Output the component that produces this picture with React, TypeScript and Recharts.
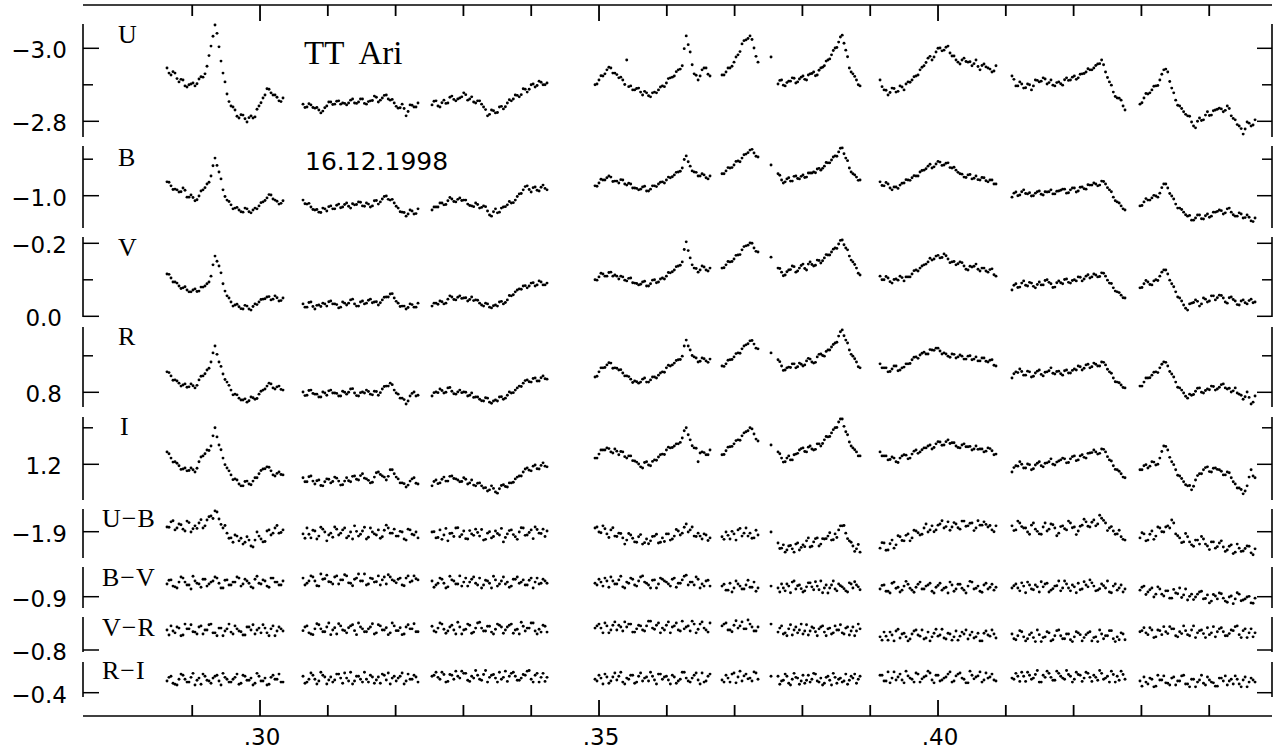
import React from "react";
import { ScatterChart, Scatter, XAxis, YAxis, ReferenceLine } from "recharts";

// time (fraction of day) of each observing block; the 6th block is a single stray point
const SEG_START = [0.28628, 0.30634, 0.32537, 0.34941, 0.36814, 0.37537, 0.3764, 0.39145, 0.41091, 0.42979];
const SEG_END = [0.30339, 0.3233, 0.34233, 0.36637, 0.37345, 0.37537, 0.3885, 0.40855, 0.42758, 0.44676];

// *_MAG / *_COL: readings on the block grid; *_MID: readings falling between them
const U_MAG = [
  [-2.946, -2.927, -2.932, -2.908, -2.913, -2.894, -2.902, -2.897, -2.916, -2.921, -2.951, -3.006, -3.064, -3.004, -2.932, -2.875, -2.842, -2.831, -2.809, -2.817, -2.798, -2.815, -2.812, -2.842, -2.864, -2.889, -2.878, -2.872, -2.856, -2.864],
  [-2.847, -2.839, -2.845, -2.836, -2.831, -2.828, -2.842, -2.853, -2.847, -2.856, -2.85, -2.845, -2.858, -2.85, -2.853, -2.861, -2.847, -2.856, -2.869, -2.853, -2.864, -2.872, -2.858, -2.85, -2.836, -2.847, -2.815, -2.845, -2.839, -2.85],
  [-2.845, -2.856, -2.839, -2.858, -2.85, -2.869, -2.856, -2.864, -2.878, -2.858, -2.867, -2.85, -2.856, -2.839, -2.815, -2.831, -2.823, -2.839, -2.834, -2.85, -2.856, -2.872, -2.867, -2.889, -2.88, -2.9, -2.894, -2.91, -2.9, -2.905],
  [-2.9, -2.913, -2.924, -2.941, -2.946, -2.932, -2.919, -2.913, -2.968, -2.897, -2.886, -2.891, -2.872, -2.878, -2.867, -2.88, -2.886, -2.897, -2.905, -2.919, -2.924, -2.941, -2.952, -3.034, -2.99, -2.93, -2.913, -2.941, -2.946, -2.924],
  [-2.927, -2.935, -2.946, -2.962, -2.982, -3.012, -3.023, -3.034, -3.001, -2.962],
  [-2.976],
  [-2.902, -2.913, -2.897, -2.91, -2.919, -2.905, -2.916, -2.924, -2.913, -2.93, -2.935, -2.927, -2.946, -2.952, -2.968, -2.982, -3.001, -3.017, -3.036, -2.995, -2.946, -2.93, -2.913, -2.897],
  [-2.913, -2.886, -2.872, -2.891, -2.88, -2.897, -2.886, -2.908, -2.913, -2.924, -2.941, -2.952, -2.973, -2.968, -2.99, -3.001, -2.995, -3.006, -2.979, -2.968, -2.957, -2.973, -2.962, -2.952, -2.968, -2.941, -2.957, -2.946, -2.935, -2.952],
  [-2.924, -2.897, -2.908, -2.891, -2.902, -2.886, -2.913, -2.908, -2.919, -2.902, -2.913, -2.897, -2.908, -2.899, -2.919, -2.913, -2.924, -2.919, -2.93, -2.935, -2.941, -2.946, -2.957, -2.968, -2.935, -2.908, -2.88, -2.864, -2.858, -2.831],
  [-2.847, -2.864, -2.875, -2.886, -2.897, -2.913, -2.941, -2.935, -2.891, -2.858, -2.842, -2.826, -2.815, -2.798, -2.782, -2.809, -2.804, -2.826, -2.817, -2.831, -2.836, -2.826, -2.842, -2.815, -2.804, -2.787, -2.765, -2.798, -2.787, -2.804],
];
const U_MID = [
  [-2.932, -2.936, -2.917, -2.915, -2.897, -2.9, -2.905, -2.903, -2.922, -2.93, -2.98, -3.033, -3.041, -2.965, -2.908, -2.854, -2.839, -2.814, -2.818, -2.807, -2.81, -2.809, -2.833, -2.851, -2.872, -2.888, -2.872, -2.866, -2.854],
  [-2.838, -2.848, -2.838, -2.838, -2.823, -2.837, -2.853, -2.846, -2.855, -2.847, -2.849, -2.85, -2.861, -2.849, -2.861, -2.849, -2.854, -2.857, -2.866, -2.858, -2.871, -2.861, -2.86, -2.841, -2.837, -2.835, -2.827, -2.844, -2.839],
  [-2.855, -2.842, -2.851, -2.849, -2.866, -2.86, -2.861, -2.867, -2.873, -2.861, -2.853, -2.856, -2.847, -2.832, -2.819, -2.829, -2.824, -2.841, -2.84, -2.859, -2.861, -2.871, -2.873, -2.888, -2.888, -2.902, -2.898, -2.907, -2.9],
  [-2.902, -2.925, -2.93, -2.948, -2.932, -2.928, -2.921, -2.901, -2.895, -2.886, -2.89, -2.88, -2.882, -2.87, -2.878, -2.878, -2.894, -2.895, -2.917, -2.921, -2.936, -2.943, -2.999, -3.01, -2.955, -2.926, -2.924, -2.946, -2.929],
  [-2.927, -2.946, -2.951, -2.976, -2.991, -3.021, -3.027, -3.024, -2.978],
  [],
  [-2.912, -2.899, -2.906, -2.91, -2.918, -2.908, -2.921, -2.915, -2.927, -2.931, -2.925, -2.94, -2.948, -2.965, -2.971, -2.994, -3.002, -3.031, -3.014, -2.977, -2.935, -2.923, -2.9],
  [-2.895, -2.885, -2.879, -2.89, -2.882, -2.894, -2.902, -2.907, -2.922, -2.927, -2.948, -2.961, -2.978, -2.976, -3.0, -2.993, -3.003, -2.987, -2.979, -2.962, -2.968, -2.964, -2.963, -2.958, -2.95, -2.953, -2.949, -2.943, -2.938],
  [-2.915, -2.897, -2.902, -2.892, -2.9, -2.897, -2.912, -2.91, -2.916, -2.906, -2.899, -2.906, -2.903, -2.914, -2.912, -2.921, -2.915, -2.929, -2.931, -2.944, -2.941, -2.953, -2.958, -2.955, -2.92, -2.899, -2.868, -2.863, -2.842],
  [-2.851, -2.876, -2.878, -2.896, -2.898, -2.929, -2.943, -2.909, -2.878, -2.844, -2.835, -2.819, -2.814, -2.787, -2.8, -2.802, -2.817, -2.816, -2.829, -2.833, -2.834, -2.83, -2.835, -2.808, -2.791, -2.78, -2.779, -2.795, -2.79],
];

const B_MAG = [
  [-1.038, -1.027, -1.018, -1.01, -1.021, -0.996, -1.002, -0.986, -0.999, -1.016, -1.032, -1.054, -1.103, -1.065, -1.016, -0.988, -0.975, -0.966, -0.961, -0.955, -0.964, -0.953, -0.966, -0.972, -0.983, -0.994, -1.002, -0.988, -0.977, -0.986],
  [-0.988, -0.977, -0.969, -0.961, -0.955, -0.966, -0.958, -0.972, -0.964, -0.977, -0.969, -0.98, -0.966, -0.975, -0.983, -0.972, -0.98, -0.969, -0.986, -0.977, -0.991, -0.999, -0.988, -0.98, -0.966, -0.955, -0.944, -0.961, -0.95, -0.964],
  [-0.961, -0.969, -0.98, -0.975, -0.986, -0.991, -0.983, -0.994, -0.988, -0.977, -0.972, -0.98, -0.966, -0.972, -0.958, -0.944, -0.964, -0.955, -0.969, -0.975, -0.98, -0.988, -1.005, -1.016, -1.027, -1.01, -1.024, -1.013, -1.029, -1.016],
  [-1.027, -1.035, -1.043, -1.049, -1.051, -1.04, -1.035, -1.043, -1.029, -1.032, -1.021, -1.016, -1.024, -1.013, -1.018, -1.027, -1.032, -1.038, -1.043, -1.049, -1.057, -1.065, -1.076, -1.109, -1.081, -1.065, -1.054, -1.06, -1.049, -1.054],
  [-1.06, -1.068, -1.076, -1.084, -1.095, -1.103, -1.114, -1.125, -1.117, -1.106],
  [-1.084],
  [-1.06, -1.043, -1.038, -1.049, -1.04, -1.054, -1.046, -1.057, -1.051, -1.062, -1.065, -1.073, -1.07, -1.081, -1.09, -1.098, -1.109, -1.12, -1.131, -1.103, -1.076, -1.06, -1.051, -1.043],
  [-1.038, -1.027, -1.032, -1.016, -1.024, -1.029, -1.035, -1.043, -1.049, -1.054, -1.065, -1.07, -1.081, -1.076, -1.087, -1.092, -1.084, -1.09, -1.076, -1.07, -1.06, -1.051, -1.057, -1.046, -1.054, -1.043, -1.049, -1.038, -1.043, -1.032],
  [-0.996, -1.01, -1.002, -1.016, -1.005, -0.999, -1.007, -1.013, -1.002, -1.01, -1.016, -1.005, -1.013, -1.018, -1.007, -1.016, -1.021, -1.013, -1.024, -1.018, -1.029, -1.035, -1.027, -1.04, -1.032, -1.016, -0.996, -0.983, -0.972, -0.961],
  [-0.972, -0.983, -0.988, -0.994, -0.999, -1.007, -1.032, -1.021, -0.999, -0.977, -0.966, -0.955, -0.944, -0.933, -0.939, -0.947, -0.936, -0.95, -0.944, -0.955, -0.961, -0.95, -0.964, -0.955, -0.944, -0.953, -0.939, -0.947, -0.931, -0.939],
];
const B_MID = [
  [-1.037, -1.017, -1.016, -1.011, -1.015, -0.996, -0.995, -0.989, -1.013, -1.022, -1.037, -1.082, -1.083, -1.046, -0.998, -0.984, -0.964, -0.968, -0.956, -0.966, -0.956, -0.961, -0.964, -0.981, -0.987, -1.003, -0.991, -0.985, -0.979],
  [-0.978, -0.979, -0.962, -0.962, -0.954, -0.964, -0.97, -0.964, -0.974, -0.967, -0.976, -0.971, -0.978, -0.976, -0.982, -0.971, -0.977, -0.972, -0.987, -0.983, -0.998, -0.99, -0.99, -0.971, -0.956, -0.954, -0.95, -0.958, -0.951],
  [-0.969, -0.969, -0.98, -0.976, -0.995, -0.984, -0.99, -0.987, -0.988, -0.973, -0.97, -0.976, -0.968, -0.97, -0.947, -0.956, -0.953, -0.966, -0.97, -0.984, -0.981, -0.998, -1.006, -1.025, -1.017, -1.022, -1.015, -1.023, -1.02],
  [-1.026, -1.045, -1.043, -1.054, -1.039, -1.04, -1.044, -1.032, -1.034, -1.021, -1.02, -1.018, -1.026, -1.013, -1.027, -1.025, -1.037, -1.035, -1.051, -1.052, -1.064, -1.067, -1.099, -1.093, -1.068, -1.064, -1.054, -1.057, -1.046],
  [-1.06, -1.077, -1.077, -1.094, -1.093, -1.112, -1.118, -1.127, -1.108],
  [],
  [-1.056, -1.035, -1.046, -1.04, -1.053, -1.047, -1.053, -1.05, -1.062, -1.062, -1.063, -1.075, -1.075, -1.091, -1.09, -1.106, -1.108, -1.13, -1.115, -1.096, -1.065, -1.057, -1.042],
  [-1.028, -1.036, -1.021, -1.024, -1.02, -1.034, -1.044, -1.042, -1.055, -1.054, -1.069, -1.074, -1.086, -1.079, -1.094, -1.083, -1.089, -1.077, -1.078, -1.064, -1.059, -1.05, -1.058, -1.048, -1.044, -1.05, -1.041, -1.043, -1.032],
  [-1.007, -1.0, -1.011, -1.006, -1.008, -1.0, -1.011, -1.004, -1.011, -1.011, -1.005, -1.012, -1.015, -1.018, -1.008, -1.021, -1.01, -1.023, -1.019, -1.03, -1.029, -1.032, -1.029, -1.039, -1.022, -1.011, -0.986, -0.98, -0.964],
  [-0.973, -0.992, -0.988, -1.001, -0.996, -1.022, -1.032, -1.006, -0.991, -0.966, -0.962, -0.948, -0.946, -0.933, -0.947, -0.937, -0.945, -0.941, -0.955, -0.957, -0.959, -0.953, -0.966, -0.948, -0.944, -0.95, -0.94, -0.941, -0.929],
];

const V_MAG = [
  [-0.116, -0.105, -0.094, -0.083, -0.078, -0.072, -0.067, -0.075, -0.069, -0.08, -0.089, -0.11, -0.165, -0.138, -0.089, -0.056, -0.039, -0.031, -0.026, -0.02, -0.028, -0.017, -0.034, -0.039, -0.047, -0.053, -0.045, -0.056, -0.042, -0.05],
  [-0.034, -0.025, -0.039, -0.02, -0.031, -0.036, -0.028, -0.042, -0.034, -0.023, -0.039, -0.031, -0.045, -0.034, -0.028, -0.042, -0.036, -0.047, -0.039, -0.031, -0.045, -0.053, -0.061, -0.05, -0.036, -0.028, -0.02, -0.034, -0.025, -0.036],
  [-0.028, -0.036, -0.042, -0.034, -0.047, -0.053, -0.045, -0.056, -0.05, -0.042, -0.053, -0.045, -0.036, -0.028, -0.034, -0.023, -0.031, -0.039, -0.034, -0.045, -0.056, -0.067, -0.075, -0.083, -0.078, -0.091, -0.083, -0.097, -0.086, -0.091],
  [-0.1, -0.108, -0.116, -0.11, -0.121, -0.113, -0.102, -0.108, -0.097, -0.105, -0.091, -0.086, -0.094, -0.083, -0.089, -0.1, -0.094, -0.105, -0.11, -0.119, -0.127, -0.138, -0.149, -0.204, -0.16, -0.132, -0.121, -0.138, -0.127, -0.132],
  [-0.132, -0.141, -0.149, -0.157, -0.168, -0.182, -0.193, -0.201, -0.187, -0.176],
  [-0.162],
  [-0.132, -0.121, -0.113, -0.127, -0.138, -0.121, -0.132, -0.143, -0.127, -0.149, -0.138, -0.154, -0.146, -0.16, -0.168, -0.176, -0.187, -0.198, -0.209, -0.187, -0.165, -0.149, -0.132, -0.113],
  [-0.11, -0.1, -0.105, -0.091, -0.102, -0.11, -0.097, -0.108, -0.116, -0.127, -0.132, -0.141, -0.149, -0.154, -0.165, -0.16, -0.171, -0.157, -0.149, -0.141, -0.149, -0.138, -0.127, -0.135, -0.143, -0.124, -0.132, -0.121, -0.13, -0.11],
  [-0.072, -0.089, -0.08, -0.097, -0.083, -0.091, -0.078, -0.094, -0.086, -0.1, -0.089, -0.08, -0.097, -0.089, -0.102, -0.091, -0.1, -0.108, -0.097, -0.11, -0.105, -0.116, -0.108, -0.119, -0.11, -0.091, -0.078, -0.067, -0.058, -0.05],
  [-0.078, -0.089, -0.094, -0.086, -0.1, -0.11, -0.127, -0.116, -0.089, -0.067, -0.05, -0.031, -0.017, -0.036, -0.045, -0.028, -0.05, -0.039, -0.056, -0.045, -0.058, -0.05, -0.036, -0.053, -0.042, -0.031, -0.045, -0.034, -0.047, -0.039],
];
const V_MID = [
  [-0.115, -0.094, -0.091, -0.076, -0.081, -0.067, -0.072, -0.068, -0.08, -0.083, -0.094, -0.141, -0.151, -0.119, -0.069, -0.05, -0.028, -0.033, -0.021, -0.03, -0.02, -0.027, -0.032, -0.046, -0.048, -0.054, -0.047, -0.051, -0.043],
  [-0.025, -0.038, -0.027, -0.03, -0.027, -0.034, -0.04, -0.034, -0.032, -0.025, -0.036, -0.036, -0.047, -0.028, -0.039, -0.034, -0.044, -0.037, -0.04, -0.037, -0.052, -0.053, -0.062, -0.041, -0.027, -0.028, -0.024, -0.032, -0.025],
  [-0.036, -0.033, -0.04, -0.036, -0.056, -0.046, -0.052, -0.049, -0.051, -0.046, -0.043, -0.044, -0.031, -0.036, -0.025, -0.029, -0.028, -0.041, -0.038, -0.057, -0.059, -0.072, -0.074, -0.084, -0.083, -0.092, -0.086, -0.094, -0.086],
  [-0.099, -0.118, -0.11, -0.12, -0.11, -0.11, -0.11, -0.099, -0.104, -0.092, -0.09, -0.088, -0.096, -0.083, -0.099, -0.092, -0.102, -0.102, -0.12, -0.122, -0.136, -0.14, -0.183, -0.18, -0.141, -0.131, -0.127, -0.135, -0.124],
  [-0.133, -0.15, -0.15, -0.167, -0.169, -0.191, -0.195, -0.2, -0.178],
  [],
  [-0.131, -0.111, -0.122, -0.128, -0.136, -0.124, -0.139, -0.131, -0.143, -0.142, -0.14, -0.153, -0.152, -0.169, -0.168, -0.184, -0.186, -0.208, -0.196, -0.182, -0.154, -0.142, -0.118],
  [-0.1, -0.109, -0.095, -0.101, -0.099, -0.106, -0.108, -0.108, -0.125, -0.124, -0.138, -0.143, -0.159, -0.157, -0.167, -0.161, -0.166, -0.147, -0.15, -0.144, -0.147, -0.129, -0.137, -0.137, -0.129, -0.132, -0.124, -0.128, -0.114],
  [-0.085, -0.079, -0.091, -0.085, -0.093, -0.082, -0.087, -0.086, -0.098, -0.093, -0.079, -0.092, -0.092, -0.101, -0.093, -0.098, -0.097, -0.107, -0.102, -0.114, -0.108, -0.113, -0.109, -0.118, -0.099, -0.09, -0.069, -0.065, -0.051],
  [-0.079, -0.098, -0.087, -0.097, -0.098, -0.121, -0.127, -0.099, -0.081, -0.053, -0.042, -0.022, -0.034, -0.038, -0.041, -0.034, -0.047, -0.042, -0.056, -0.051, -0.057, -0.039, -0.051, -0.046, -0.032, -0.042, -0.037, -0.043, -0.037],
];

const R_MAG = [
  [0.744, 0.755, 0.766, 0.775, 0.78, 0.786, 0.777, 0.788, 0.766, 0.755, 0.739, 0.717, 0.673, 0.717, 0.75, 0.772, 0.794, 0.805, 0.816, 0.821, 0.827, 0.813, 0.819, 0.805, 0.794, 0.783, 0.777, 0.791, 0.783, 0.794],
  [0.799, 0.808, 0.794, 0.805, 0.813, 0.799, 0.808, 0.794, 0.802, 0.81, 0.797, 0.805, 0.791, 0.802, 0.81, 0.799, 0.794, 0.805, 0.797, 0.808, 0.791, 0.783, 0.775, 0.794, 0.805, 0.816, 0.832, 0.81, 0.799, 0.808],
  [0.81, 0.799, 0.791, 0.802, 0.788, 0.797, 0.805, 0.794, 0.799, 0.81, 0.802, 0.813, 0.819, 0.824, 0.816, 0.83, 0.821, 0.813, 0.819, 0.808, 0.802, 0.794, 0.783, 0.775, 0.766, 0.772, 0.761, 0.769, 0.755, 0.764],
  [0.758, 0.744, 0.733, 0.725, 0.72, 0.733, 0.739, 0.747, 0.755, 0.764, 0.769, 0.775, 0.764, 0.772, 0.766, 0.758, 0.753, 0.744, 0.733, 0.728, 0.72, 0.711, 0.701, 0.657, 0.684, 0.703, 0.717, 0.706, 0.714, 0.709],
  [0.728, 0.722, 0.711, 0.703, 0.692, 0.681, 0.67, 0.659, 0.668, 0.681],
  [0.692],
  [0.711, 0.728, 0.739, 0.731, 0.722, 0.733, 0.72, 0.728, 0.714, 0.709, 0.72, 0.703, 0.695, 0.701, 0.684, 0.676, 0.665, 0.646, 0.629, 0.657, 0.684, 0.701, 0.717, 0.733],
  [0.722, 0.733, 0.744, 0.736, 0.728, 0.739, 0.731, 0.722, 0.711, 0.703, 0.698, 0.69, 0.695, 0.684, 0.679, 0.687, 0.692, 0.701, 0.695, 0.706, 0.698, 0.709, 0.701, 0.711, 0.703, 0.714, 0.706, 0.717, 0.711, 0.728],
  [0.761, 0.744, 0.736, 0.753, 0.742, 0.758, 0.747, 0.739, 0.755, 0.744, 0.733, 0.75, 0.742, 0.753, 0.739, 0.747, 0.736, 0.728, 0.739, 0.725, 0.733, 0.72, 0.728, 0.717, 0.725, 0.744, 0.761, 0.772, 0.78, 0.788],
  [0.783, 0.772, 0.761, 0.753, 0.744, 0.733, 0.717, 0.728, 0.75, 0.772, 0.788, 0.802, 0.816, 0.808, 0.797, 0.788, 0.802, 0.791, 0.783, 0.794, 0.786, 0.777, 0.791, 0.799, 0.788, 0.805, 0.819, 0.799, 0.832, 0.81],
];
const R_MID = [
  [0.746, 0.767, 0.769, 0.783, 0.777, 0.785, 0.782, 0.781, 0.756, 0.749, 0.734, 0.692, 0.696, 0.729, 0.765, 0.781, 0.807, 0.807, 0.821, 0.818, 0.823, 0.815, 0.817, 0.797, 0.791, 0.775, 0.788, 0.785, 0.792],
  [0.809, 0.795, 0.803, 0.805, 0.813, 0.802, 0.796, 0.802, 0.803, 0.81, 0.8, 0.8, 0.79, 0.809, 0.801, 0.802, 0.798, 0.807, 0.798, 0.801, 0.784, 0.783, 0.779, 0.802, 0.816, 0.82, 0.824, 0.803, 0.81],
  [0.801, 0.801, 0.795, 0.8, 0.787, 0.804, 0.799, 0.801, 0.8, 0.808, 0.814, 0.813, 0.823, 0.815, 0.827, 0.824, 0.824, 0.812, 0.816, 0.799, 0.801, 0.788, 0.784, 0.768, 0.771, 0.762, 0.769, 0.76, 0.763],
  [0.756, 0.733, 0.732, 0.719, 0.734, 0.734, 0.738, 0.755, 0.757, 0.773, 0.771, 0.772, 0.761, 0.772, 0.758, 0.761, 0.747, 0.745, 0.726, 0.725, 0.713, 0.71, 0.673, 0.673, 0.699, 0.706, 0.715, 0.708, 0.718],
  [0.729, 0.712, 0.71, 0.694, 0.693, 0.673, 0.667, 0.658, 0.679],
  [],
  [0.716, 0.74, 0.733, 0.732, 0.722, 0.73, 0.723, 0.725, 0.707, 0.717, 0.718, 0.696, 0.699, 0.688, 0.684, 0.669, 0.663, 0.634, 0.645, 0.665, 0.696, 0.708, 0.73],
  [0.733, 0.733, 0.743, 0.728, 0.741, 0.733, 0.722, 0.721, 0.704, 0.707, 0.693, 0.695, 0.683, 0.685, 0.679, 0.695, 0.695, 0.704, 0.696, 0.703, 0.701, 0.709, 0.7, 0.709, 0.714, 0.706, 0.715, 0.712, 0.726],
  [0.749, 0.746, 0.743, 0.753, 0.744, 0.756, 0.742, 0.751, 0.745, 0.741, 0.748, 0.743, 0.749, 0.741, 0.747, 0.74, 0.739, 0.73, 0.734, 0.723, 0.73, 0.723, 0.728, 0.718, 0.737, 0.748, 0.771, 0.774, 0.787],
  [0.783, 0.761, 0.76, 0.745, 0.746, 0.723, 0.718, 0.743, 0.758, 0.786, 0.794, 0.811, 0.805, 0.806, 0.789, 0.8, 0.795, 0.793, 0.784, 0.791, 0.779, 0.788, 0.789, 0.796, 0.802, 0.808, 0.812, 0.814, 0.827],
];

const I_MAG = [
  [1.166, 1.183, 1.193, 1.204, 1.213, 1.218, 1.21, 1.221, 1.193, 1.177, 1.161, 1.15, 1.1, 1.147, 1.183, 1.21, 1.229, 1.24, 1.254, 1.259, 1.246, 1.256, 1.237, 1.226, 1.213, 1.207, 1.218, 1.232, 1.221, 1.229],
  [1.237, 1.248, 1.232, 1.254, 1.243, 1.259, 1.24, 1.251, 1.235, 1.246, 1.256, 1.237, 1.248, 1.232, 1.243, 1.226, 1.24, 1.251, 1.235, 1.221, 1.232, 1.243, 1.215, 1.226, 1.24, 1.251, 1.262, 1.246, 1.237, 1.254],
  [1.259, 1.243, 1.251, 1.235, 1.246, 1.232, 1.24, 1.248, 1.237, 1.254, 1.243, 1.259, 1.251, 1.265, 1.273, 1.259, 1.276, 1.267, 1.256, 1.262, 1.251, 1.24, 1.232, 1.221, 1.21, 1.218, 1.202, 1.213, 1.196, 1.207],
  [1.183, 1.172, 1.161, 1.155, 1.166, 1.158, 1.174, 1.166, 1.183, 1.177, 1.191, 1.199, 1.21, 1.193, 1.204, 1.188, 1.18, 1.172, 1.161, 1.155, 1.15, 1.144, 1.128, 1.1, 1.133, 1.155, 1.193, 1.166, 1.174, 1.161],
  [1.174, 1.163, 1.152, 1.144, 1.133, 1.122, 1.111, 1.1, 1.117, 1.136],
  [1.147],
  [1.166, 1.183, 1.193, 1.177, 1.188, 1.172, 1.161, 1.155, 1.166, 1.15, 1.161, 1.144, 1.15, 1.133, 1.125, 1.114, 1.1, 1.084, 1.076, 1.111, 1.139, 1.155, 1.166, 1.177],
  [1.166, 1.177, 1.188, 1.18, 1.193, 1.183, 1.174, 1.185, 1.172, 1.161, 1.166, 1.155, 1.15, 1.158, 1.144, 1.139, 1.147, 1.133, 1.141, 1.15, 1.155, 1.144, 1.152, 1.161, 1.15, 1.158, 1.166, 1.155, 1.163, 1.172],
  [1.221, 1.204, 1.193, 1.21, 1.199, 1.215, 1.202, 1.193, 1.207, 1.196, 1.185, 1.202, 1.191, 1.183, 1.196, 1.185, 1.177, 1.188, 1.174, 1.183, 1.169, 1.161, 1.172, 1.158, 1.166, 1.188, 1.204, 1.215, 1.226, 1.237],
  [1.215, 1.204, 1.21, 1.193, 1.202, 1.183, 1.15, 1.161, 1.193, 1.215, 1.232, 1.248, 1.259, 1.27, 1.243, 1.226, 1.215, 1.207, 1.221, 1.21, 1.215, 1.229, 1.221, 1.237, 1.254, 1.265, 1.281, 1.259, 1.215, 1.237],
];
const I_MID = [
  [1.171, 1.194, 1.197, 1.214, 1.21, 1.217, 1.215, 1.211, 1.18, 1.171, 1.162, 1.122, 1.125, 1.16, 1.201, 1.218, 1.242, 1.243, 1.259, 1.247, 1.254, 1.246, 1.237, 1.217, 1.212, 1.208, 1.229, 1.225, 1.228],
  [1.248, 1.234, 1.246, 1.245, 1.258, 1.248, 1.241, 1.247, 1.238, 1.257, 1.246, 1.245, 1.233, 1.241, 1.231, 1.238, 1.244, 1.249, 1.223, 1.228, 1.235, 1.233, 1.215, 1.235, 1.251, 1.253, 1.257, 1.24, 1.252],
  [1.247, 1.253, 1.241, 1.246, 1.233, 1.239, 1.243, 1.247, 1.241, 1.251, 1.257, 1.252, 1.259, 1.264, 1.27, 1.266, 1.279, 1.258, 1.261, 1.251, 1.249, 1.235, 1.232, 1.213, 1.216, 1.205, 1.212, 1.203, 1.205],
  [1.183, 1.161, 1.161, 1.157, 1.169, 1.164, 1.165, 1.179, 1.177, 1.19, 1.194, 1.207, 1.195, 1.202, 1.192, 1.189, 1.174, 1.173, 1.153, 1.154, 1.144, 1.14, 1.108, 1.119, 1.149, 1.156, 1.169, 1.168, 1.174],
  [1.173, 1.153, 1.151, 1.135, 1.134, 1.114, 1.108, 1.103, 1.131],
  [],
  [1.171, 1.194, 1.183, 1.188, 1.174, 1.17, 1.157, 1.165, 1.153, 1.158, 1.159, 1.144, 1.143, 1.124, 1.124, 1.105, 1.099, 1.076, 1.096, 1.119, 1.15, 1.16, 1.177],
  [1.177, 1.177, 1.187, 1.183, 1.195, 1.177, 1.175, 1.183, 1.164, 1.17, 1.16, 1.155, 1.147, 1.154, 1.138, 1.148, 1.138, 1.143, 1.141, 1.154, 1.147, 1.152, 1.151, 1.158, 1.159, 1.158, 1.164, 1.157, 1.174],
  [1.209, 1.205, 1.2, 1.21, 1.201, 1.212, 1.197, 1.204, 1.197, 1.193, 1.2, 1.194, 1.188, 1.185, 1.195, 1.179, 1.19, 1.177, 1.181, 1.17, 1.168, 1.166, 1.17, 1.159, 1.179, 1.191, 1.214, 1.219, 1.235],
  [1.215, 1.201, 1.205, 1.194, 1.2, 1.165, 1.151, 1.181, 1.201, 1.23, 1.239, 1.256, 1.258, 1.26, 1.231, 1.226, 1.209, 1.22, 1.211, 1.214, 1.219, 1.229, 1.223, 1.248, 1.265, 1.269, 1.273, 1.235, 1.232],
];

const UB_COL = [
  [-1.913, -1.927, -1.905, -1.921, -1.907, -1.929, -1.899, -1.916, -1.924, -1.91, -1.932, -1.943, -1.957, -1.935, -1.91, -1.896, -1.883, -1.891, -1.875, -1.866, -1.886, -1.861, -1.877, -1.888, -1.872, -1.902, -1.891, -1.91, -1.896, -1.905],
  [-1.894, -1.91, -1.883, -1.902, -1.888, -1.907, -1.875, -1.896, -1.913, -1.891, -1.905, -1.883, -1.899, -1.916, -1.888, -1.902, -1.88, -1.91, -1.894, -1.905, -1.886, -1.918, -1.896, -1.907, -1.888, -1.899, -1.877, -1.905, -1.891, -1.883],
  [-1.899, -1.883, -1.905, -1.891, -1.875, -1.896, -1.91, -1.886, -1.902, -1.88, -1.894, -1.907, -1.888, -1.877, -1.896, -1.883, -1.902, -1.891, -1.872, -1.894, -1.905, -1.886, -1.899, -1.91, -1.891, -1.905, -1.913, -1.896, -1.907, -1.902],
  [-1.91, -1.899, -1.916, -1.894, -1.905, -1.888, -1.896, -1.883, -1.877, -1.891, -1.872, -1.886, -1.866, -1.88, -1.875, -1.888, -1.869, -1.883, -1.894, -1.877, -1.888, -1.902, -1.896, -1.921, -1.905, -1.888, -1.896, -1.88, -1.891, -1.883],
  [-1.886, -1.899, -1.88, -1.894, -1.905, -1.888, -1.91, -1.896, -1.883, -1.891],
  [-1.899],
  [-1.869, -1.855, -1.844, -1.861, -1.853, -1.866, -1.85, -1.864, -1.875, -1.858, -1.872, -1.883, -1.866, -1.88, -1.888, -1.877, -1.894, -1.905, -1.916, -1.896, -1.875, -1.861, -1.853, -1.844],
  [-1.855, -1.869, -1.85, -1.877, -1.864, -1.886, -1.875, -1.894, -1.883, -1.902, -1.891, -1.91, -1.899, -1.916, -1.905, -1.921, -1.91, -1.927, -1.913, -1.921, -1.907, -1.929, -1.916, -1.924, -1.91, -1.918, -1.927, -1.913, -1.905, -1.916],
  [-1.916, -1.905, -1.924, -1.91, -1.899, -1.918, -1.907, -1.894, -1.913, -1.902, -1.921, -1.91, -1.896, -1.916, -1.905, -1.924, -1.913, -1.902, -1.918, -1.927, -1.913, -1.932, -1.921, -1.937, -1.924, -1.91, -1.902, -1.894, -1.886, -1.877],
  [-1.883, -1.894, -1.877, -1.902, -1.888, -1.91, -1.899, -1.916, -1.932, -1.894, -1.883, -1.872, -1.886, -1.864, -1.877, -1.866, -1.88, -1.861, -1.872, -1.855, -1.869, -1.858, -1.85, -1.864, -1.844, -1.855, -1.847, -1.861, -1.842, -1.853],
];
const UB_MID = [
  [-1.912, -1.93, -1.91, -1.919, -1.902, -1.925, -1.908, -1.909, -1.933, -1.916, -1.941, -1.936, -1.954, -1.92, -1.917, -1.882, -1.871, -1.888, -1.882, -1.871, -1.877, -1.858, -1.899, -1.88, -1.873, -1.905, -1.896, -1.917, -1.898],
  [-1.882, -1.893, -1.904, -1.88, -1.912, -1.899, -1.891, -1.885, -1.907, -1.896, -1.91, -1.888, -1.88, -1.901, -1.893, -1.912, -1.885, -1.899, -1.891, -1.882, -1.904, -1.91, -1.896, -1.888, -1.901, -1.88, -1.907, -1.893, -1.899],
  [-1.9, -1.884, -1.879, -1.909, -1.895, -1.887, -1.911, -1.892, -1.881, -1.903, -1.89, -1.898, -1.906, -1.879, -1.9, -1.887, -1.895, -1.909, -1.884, -1.903, -1.892, -1.879, -1.911, -1.89, -1.898, -1.881, -1.906, -1.895, -1.887],
  [-1.913, -1.897, -1.908, -1.884, -1.911, -1.887, -1.895, -1.866, -1.895, -1.882, -1.871, -1.892, -1.87, -1.867, -1.887, -1.893, -1.871, -1.873, -1.894, -1.88, -1.906, -1.891, -1.912, -1.899, -1.913, -1.887, -1.888, -1.894, -1.876],
  [-1.879, -1.89, -1.901, -1.877, -1.909, -1.896, -1.888, -1.882, -1.904],
  [],
  [-1.854, -1.864, -1.85, -1.862, -1.844, -1.869, -1.857, -1.859, -1.883, -1.86, -1.881, -1.861, -1.881, -1.881, -1.897, -1.878, -1.884, -1.916, -1.917, -1.881, -1.871, -1.846, -1.865],
  [-1.87, -1.849, -1.867, -1.855, -1.889, -1.876, -1.89, -1.875, -1.904, -1.897, -1.893, -1.921, -1.905, -1.9, -1.918, -1.93, -1.914, -1.904, -1.925, -1.911, -1.929, -1.915, -1.923, -1.903, -1.93, -1.918, -1.92, -1.917, -1.9],
  [-1.903, -1.929, -1.914, -1.91, -1.893, -1.924, -1.901, -1.893, -1.924, -1.907, -1.919, -1.889, -1.914, -1.908, -1.929, -1.911, -1.892, -1.915, -1.934, -1.915, -1.926, -1.916, -1.945, -1.931, -1.903, -1.914, -1.893, -1.904, -1.879],
  [-1.897, -1.875, -1.893, -1.879, -1.913, -1.9, -1.913, -1.91, -1.924, -1.889, -1.87, -1.895, -1.872, -1.86, -1.877, -1.887, -1.866, -1.851, -1.872, -1.859, -1.875, -1.846, -1.86, -1.84, -1.866, -1.846, -1.854, -1.86, -1.837],
];

const BV_COL = [
  [-0.935, -0.946, -0.927, -0.94, -0.951, -0.932, -0.921, -0.943, -0.935, -0.948, -0.929, -0.94, -0.954, -0.937, -0.924, -0.946, -0.932, -0.94, -0.951, -0.935, -0.943, -0.927, -0.948, -0.937, -0.946, -0.929, -0.951, -0.94, -0.932, -0.943],
  [-0.951, -0.937, -0.957, -0.943, -0.929, -0.948, -0.959, -0.94, -0.954, -0.935, -0.946, -0.957, -0.937, -0.948, -0.962, -0.943, -0.932, -0.951, -0.94, -0.957, -0.946, -0.935, -0.954, -0.943, -0.948, -0.932, -0.951, -0.94, -0.957, -0.946],
  [-0.943, -0.932, -0.951, -0.937, -0.927, -0.946, -0.935, -0.957, -0.94, -0.929, -0.948, -0.937, -0.951, -0.932, -0.943, -0.924, -0.946, -0.935, -0.954, -0.94, -0.929, -0.948, -0.937, -0.946, -0.932, -0.951, -0.94, -0.935, -0.948, -0.937],
  [-0.937, -0.948, -0.929, -0.943, -0.954, -0.935, -0.946, -0.927, -0.94, -0.951, -0.932, -0.943, -0.957, -0.937, -0.924, -0.946, -0.935, -0.948, -0.94, -0.929, -0.951, -0.937, -0.946, -0.959, -0.94, -0.932, -0.948, -0.935, -0.943, -0.929],
  [-0.929, -0.918, -0.937, -0.924, -0.935, -0.921, -0.932, -0.926, -0.94, -0.924],
  [-0.929],
  [-0.924, -0.935, -0.916, -0.929, -0.94, -0.921, -0.932, -0.913, -0.927, -0.938, -0.919, -0.929, -0.943, -0.924, -0.91, -0.932, -0.921, -0.935, -0.927, -0.916, -0.938, -0.924, -0.932, -0.919],
  [-0.921, -0.932, -0.915, -0.937, -0.923, -0.913, -0.929, -0.934, -0.918, -0.926, -0.94, -0.921, -0.932, -0.915, -0.926, -0.937, -0.923, -0.91, -0.932, -0.921, -0.934, -0.918, -0.929, -0.94, -0.923, -0.915, -0.932, -0.921, -0.934, -0.926],
  [-0.924, -0.935, -0.916, -0.929, -0.94, -0.921, -0.932, -0.913, -0.927, -0.937, -0.918, -0.929, -0.943, -0.924, -0.935, -0.916, -0.927, -0.937, -0.921, -0.932, -0.946, -0.929, -0.918, -0.935, -0.924, -0.913, -0.929, -0.918, -0.932, -0.921],
  [-0.918, -0.929, -0.913, -0.924, -0.907, -0.921, -0.902, -0.916, -0.896, -0.91, -0.924, -0.905, -0.891, -0.907, -0.899, -0.913, -0.894, -0.905, -0.888, -0.902, -0.91, -0.896, -0.885, -0.902, -0.894, -0.907, -0.891, -0.899, -0.883, -0.896],
];
const BV_MID = [
  [-0.945, -0.929, -0.924, -0.954, -0.94, -0.932, -0.956, -0.937, -0.926, -0.948, -0.935, -0.943, -0.951, -0.924, -0.945, -0.932, -0.94, -0.954, -0.929, -0.948, -0.937, -0.924, -0.956, -0.935, -0.943, -0.926, -0.951, -0.94, -0.932],
  [-0.932, -0.943, -0.954, -0.93, -0.962, -0.949, -0.941, -0.935, -0.957, -0.946, -0.96, -0.938, -0.93, -0.951, -0.943, -0.962, -0.935, -0.949, -0.941, -0.932, -0.954, -0.96, -0.946, -0.938, -0.951, -0.93, -0.957, -0.943, -0.949],
  [-0.926, -0.937, -0.948, -0.924, -0.956, -0.943, -0.935, -0.929, -0.951, -0.94, -0.954, -0.932, -0.924, -0.945, -0.937, -0.956, -0.929, -0.943, -0.935, -0.926, -0.948, -0.954, -0.94, -0.932, -0.945, -0.924, -0.951, -0.937, -0.943],
  [-0.932, -0.94, -0.951, -0.926, -0.943, -0.935, -0.956, -0.924, -0.937, -0.948, -0.929, -0.954, -0.94, -0.932, -0.945, -0.924, -0.951, -0.943, -0.935, -0.948, -0.926, -0.937, -0.956, -0.932, -0.94, -0.954, -0.924, -0.929, -0.945],
  [-0.934, -0.918, -0.913, -0.943, -0.929, -0.921, -0.945, -0.926, -0.915],
  [],
  [-0.913, -0.924, -0.935, -0.911, -0.943, -0.93, -0.922, -0.916, -0.938, -0.927, -0.941, -0.919, -0.911, -0.932, -0.924, -0.943, -0.916, -0.93, -0.922, -0.913, -0.935, -0.941, -0.927],
  [-0.931, -0.915, -0.91, -0.94, -0.926, -0.918, -0.942, -0.923, -0.912, -0.934, -0.921, -0.929, -0.937, -0.91, -0.931, -0.918, -0.926, -0.94, -0.915, -0.934, -0.923, -0.91, -0.942, -0.921, -0.929, -0.912, -0.937, -0.926, -0.918],
  [-0.93, -0.924, -0.938, -0.911, -0.932, -0.919, -0.927, -0.941, -0.935, -0.913, -0.922, -0.93, -0.916, -0.943, -0.924, -0.932, -0.911, -0.919, -0.941, -0.927, -0.938, -0.916, -0.922, -0.93, -0.943, -0.911, -0.935, -0.924, -0.913],
  [-0.926, -0.906, -0.919, -0.899, -0.927, -0.907, -0.916, -0.896, -0.92, -0.908, -0.898, -0.921, -0.901, -0.892, -0.907, -0.915, -0.895, -0.883, -0.906, -0.894, -0.908, -0.888, -0.899, -0.881, -0.911, -0.889, -0.894, -0.901, -0.882],
];

const VR_COL = [
  [-0.855, -0.866, -0.847, -0.86, -0.841, -0.858, -0.869, -0.849, -0.863, -0.844, -0.855, -0.871, -0.847, -0.86, -0.839, -0.858, -0.849, -0.866, -0.852, -0.841, -0.863, -0.855, -0.844, -0.86, -0.869, -0.847, -0.858, -0.839, -0.863, -0.852],
  [-0.853, -0.866, -0.844, -0.858, -0.869, -0.85, -0.863, -0.842, -0.861, -0.872, -0.855, -0.847, -0.866, -0.853, -0.874, -0.858, -0.85, -0.863, -0.844, -0.869, -0.855, -0.861, -0.847, -0.866, -0.853, -0.842, -0.863, -0.858, -0.872, -0.85],
  [-0.865, -0.849, -0.874, -0.857, -0.852, -0.868, -0.844, -0.863, -0.855, -0.871, -0.846, -0.86, -0.876, -0.852, -0.865, -0.849, -0.857, -0.868, -0.846, -0.863, -0.871, -0.855, -0.844, -0.865, -0.86, -0.874, -0.852, -0.857, -0.868, -0.849],
  [-0.86, -0.871, -0.847, -0.866, -0.855, -0.877, -0.868, -0.852, -0.863, -0.871, -0.849, -0.868, -0.855, -0.866, -0.879, -0.857, -0.874, -0.86, -0.868, -0.847, -0.866, -0.855, -0.879, -0.863, -0.852, -0.871, -0.857, -0.877, -0.855, -0.874],
  [-0.866, -0.874, -0.855, -0.868, -0.86, -0.877, -0.858, -0.871, -0.852, -0.863],
  [-0.871],
  [-0.849, -0.866, -0.847, -0.858, -0.841, -0.863, -0.855, -0.844, -0.869, -0.852, -0.86, -0.839, -0.863, -0.849, -0.858, -0.844, -0.866, -0.855, -0.847, -0.86, -0.841, -0.863, -0.852, -0.858],
  [-0.836, -0.849, -0.827, -0.841, -0.852, -0.833, -0.846, -0.825, -0.844, -0.855, -0.838, -0.83, -0.849, -0.836, -0.857, -0.841, -0.833, -0.846, -0.827, -0.852, -0.838, -0.844, -0.83, -0.849, -0.836, -0.825, -0.846, -0.841, -0.855, -0.833],
  [-0.844, -0.828, -0.853, -0.836, -0.831, -0.847, -0.823, -0.842, -0.834, -0.85, -0.825, -0.839, -0.855, -0.831, -0.844, -0.828, -0.836, -0.847, -0.825, -0.842, -0.85, -0.834, -0.823, -0.844, -0.839, -0.853, -0.831, -0.836, -0.847, -0.828],
  [-0.85, -0.861, -0.842, -0.855, -0.836, -0.853, -0.864, -0.845, -0.858, -0.839, -0.85, -0.866, -0.842, -0.855, -0.834, -0.853, -0.845, -0.861, -0.847, -0.836, -0.858, -0.85, -0.839, -0.855, -0.864, -0.842, -0.853, -0.834, -0.858, -0.847],
];
const VR_MID = [
  [-0.841, -0.852, -0.863, -0.839, -0.871, -0.858, -0.85, -0.844, -0.866, -0.855, -0.869, -0.847, -0.839, -0.86, -0.852, -0.871, -0.844, -0.858, -0.85, -0.841, -0.863, -0.869, -0.855, -0.847, -0.86, -0.839, -0.866, -0.852, -0.858],
  [-0.863, -0.847, -0.842, -0.872, -0.858, -0.85, -0.874, -0.855, -0.844, -0.866, -0.853, -0.861, -0.869, -0.842, -0.863, -0.85, -0.858, -0.872, -0.847, -0.866, -0.855, -0.842, -0.874, -0.853, -0.861, -0.844, -0.869, -0.858, -0.85],
  [-0.852, -0.86, -0.871, -0.846, -0.863, -0.855, -0.876, -0.844, -0.857, -0.868, -0.849, -0.874, -0.86, -0.852, -0.865, -0.844, -0.871, -0.863, -0.855, -0.868, -0.846, -0.857, -0.876, -0.852, -0.86, -0.874, -0.844, -0.849, -0.865],
  [-0.866, -0.86, -0.874, -0.847, -0.868, -0.855, -0.863, -0.877, -0.871, -0.849, -0.858, -0.866, -0.852, -0.879, -0.86, -0.868, -0.847, -0.855, -0.877, -0.863, -0.874, -0.852, -0.858, -0.866, -0.879, -0.847, -0.871, -0.86, -0.849],
  [-0.871, -0.855, -0.85, -0.88, -0.866, -0.858, -0.882, -0.863, -0.852],
  [],
  [-0.86, -0.844, -0.839, -0.869, -0.855, -0.847, -0.871, -0.852, -0.841, -0.863, -0.85, -0.858, -0.866, -0.839, -0.86, -0.847, -0.855, -0.869, -0.844, -0.863, -0.852, -0.839, -0.871],
  [-0.827, -0.838, -0.849, -0.825, -0.857, -0.844, -0.836, -0.83, -0.852, -0.841, -0.855, -0.833, -0.825, -0.846, -0.838, -0.857, -0.83, -0.844, -0.836, -0.827, -0.849, -0.855, -0.841, -0.833, -0.846, -0.825, -0.852, -0.838, -0.844],
  [-0.831, -0.839, -0.85, -0.825, -0.842, -0.834, -0.855, -0.823, -0.836, -0.847, -0.828, -0.853, -0.839, -0.831, -0.844, -0.823, -0.85, -0.842, -0.834, -0.847, -0.825, -0.836, -0.855, -0.831, -0.839, -0.853, -0.823, -0.828, -0.844],
  [-0.853, -0.847, -0.861, -0.834, -0.855, -0.842, -0.85, -0.864, -0.858, -0.836, -0.845, -0.853, -0.839, -0.866, -0.847, -0.855, -0.834, -0.842, -0.864, -0.85, -0.861, -0.839, -0.845, -0.853, -0.866, -0.834, -0.858, -0.847, -0.836],
];

const RI_COL = [
  [-0.432, -0.445, -0.423, -0.437, -0.448, -0.429, -0.442, -0.421, -0.44, -0.451, -0.434, -0.426, -0.445, -0.432, -0.453, -0.437, -0.429, -0.442, -0.423, -0.448, -0.434, -0.44, -0.426, -0.445, -0.432, -0.421, -0.442, -0.437, -0.451, -0.429],
  [-0.445, -0.429, -0.454, -0.437, -0.432, -0.448, -0.424, -0.443, -0.435, -0.451, -0.426, -0.44, -0.456, -0.432, -0.445, -0.429, -0.437, -0.448, -0.426, -0.443, -0.451, -0.435, -0.424, -0.445, -0.44, -0.454, -0.432, -0.437, -0.448, -0.429],
  [-0.445, -0.456, -0.437, -0.45, -0.431, -0.448, -0.459, -0.44, -0.453, -0.434, -0.445, -0.461, -0.437, -0.45, -0.429, -0.448, -0.44, -0.456, -0.442, -0.431, -0.453, -0.445, -0.434, -0.45, -0.459, -0.437, -0.448, -0.429, -0.453, -0.442],
  [-0.437, -0.448, -0.424, -0.443, -0.432, -0.454, -0.445, -0.429, -0.44, -0.448, -0.426, -0.445, -0.432, -0.443, -0.456, -0.435, -0.451, -0.437, -0.445, -0.424, -0.443, -0.432, -0.456, -0.44, -0.429, -0.448, -0.435, -0.454, -0.432, -0.451],
  [-0.435, -0.448, -0.429, -0.454, -0.443, -0.432, -0.451, -0.44, -0.457, -0.437],
  [-0.445],
  [-0.445, -0.432, -0.451, -0.426, -0.437, -0.442, -0.423, -0.448, -0.434, -0.429, -0.453, -0.432, -0.44, -0.426, -0.445, -0.421, -0.442, -0.437, -0.429, -0.451, -0.434, -0.44, -0.426, -0.445],
  [-0.448, -0.432, -0.457, -0.44, -0.435, -0.451, -0.427, -0.446, -0.437, -0.454, -0.429, -0.443, -0.459, -0.435, -0.448, -0.432, -0.44, -0.451, -0.429, -0.446, -0.454, -0.437, -0.427, -0.448, -0.443, -0.457, -0.435, -0.44, -0.451, -0.432],
  [-0.44, -0.453, -0.431, -0.445, -0.456, -0.437, -0.45, -0.429, -0.448, -0.459, -0.442, -0.434, -0.453, -0.44, -0.461, -0.445, -0.437, -0.45, -0.431, -0.456, -0.442, -0.448, -0.434, -0.453, -0.44, -0.429, -0.45, -0.445, -0.459, -0.437],
  [-0.432, -0.443, -0.424, -0.437, -0.418, -0.435, -0.446, -0.426, -0.44, -0.421, -0.432, -0.448, -0.424, -0.437, -0.416, -0.435, -0.426, -0.443, -0.429, -0.418, -0.44, -0.432, -0.421, -0.437, -0.446, -0.424, -0.435, -0.416, -0.44, -0.429],
];
const RI_MID = [
  [-0.442, -0.426, -0.421, -0.451, -0.437, -0.429, -0.453, -0.434, -0.423, -0.445, -0.432, -0.44, -0.448, -0.421, -0.442, -0.429, -0.437, -0.451, -0.426, -0.445, -0.434, -0.421, -0.453, -0.432, -0.44, -0.423, -0.448, -0.437, -0.429],
  [-0.426, -0.437, -0.448, -0.424, -0.456, -0.443, -0.435, -0.429, -0.451, -0.44, -0.454, -0.432, -0.424, -0.445, -0.437, -0.456, -0.429, -0.443, -0.435, -0.426, -0.448, -0.454, -0.44, -0.432, -0.445, -0.424, -0.451, -0.437, -0.443],
  [-0.448, -0.442, -0.456, -0.429, -0.45, -0.437, -0.445, -0.459, -0.453, -0.431, -0.44, -0.448, -0.434, -0.461, -0.442, -0.45, -0.429, -0.437, -0.459, -0.445, -0.456, -0.434, -0.44, -0.448, -0.461, -0.429, -0.453, -0.442, -0.431],
  [-0.432, -0.44, -0.451, -0.426, -0.443, -0.435, -0.456, -0.424, -0.437, -0.448, -0.429, -0.454, -0.44, -0.432, -0.445, -0.424, -0.451, -0.443, -0.435, -0.448, -0.426, -0.437, -0.456, -0.432, -0.44, -0.454, -0.424, -0.429, -0.445],
  [-0.429, -0.44, -0.451, -0.427, -0.459, -0.446, -0.438, -0.432, -0.454],
  [],
  [-0.423, -0.434, -0.445, -0.421, -0.453, -0.44, -0.432, -0.426, -0.448, -0.437, -0.451, -0.429, -0.421, -0.442, -0.434, -0.453, -0.426, -0.44, -0.432, -0.423, -0.445, -0.451, -0.437],
  [-0.448, -0.432, -0.427, -0.457, -0.443, -0.435, -0.459, -0.44, -0.429, -0.451, -0.438, -0.446, -0.454, -0.427, -0.448, -0.435, -0.443, -0.457, -0.432, -0.451, -0.44, -0.427, -0.459, -0.438, -0.446, -0.429, -0.454, -0.443, -0.435],
  [-0.437, -0.445, -0.456, -0.431, -0.448, -0.44, -0.461, -0.429, -0.442, -0.453, -0.434, -0.459, -0.445, -0.437, -0.45, -0.429, -0.456, -0.448, -0.44, -0.453, -0.431, -0.442, -0.461, -0.437, -0.445, -0.459, -0.429, -0.434, -0.45],
  [-0.418, -0.429, -0.44, -0.416, -0.448, -0.435, -0.427, -0.421, -0.443, -0.432, -0.446, -0.424, -0.416, -0.437, -0.429, -0.448, -0.421, -0.435, -0.427, -0.418, -0.44, -0.446, -0.432, -0.424, -0.437, -0.416, -0.443, -0.429, -0.435],
];

const X_TICKS = [0.29, 0.3, 0.31, 0.32, 0.33, 0.34, 0.35, 0.36, 0.37, 0.38, 0.39, 0.4, 0.41, 0.42, 0.43, 0.44];
const X_LABELED = [0.3, 0.35, 0.4];

// layout (page pixels)
const W = 1275;
const H = 751;
const PLOT_L = 83;
const PLOT_R = 1272;
const FRAME_TOP = 5;
const FRAME_BOTTOM = 716;
const X_DOMAIN = [0.27389, 0.44926];
const PX_PER_MAG = 365;
const SANS = "DejaVu Sans";
const SERIF = "Liberation Serif";
const INK = "#000";

// top/bottom: extent of the panel's own axis segment; ref/refY: one tick value and its pixel row
const PANELS = [
  { name: "U", data: U_MAG, mid: U_MID, top: 24, bottom: 137, ref: -3.0, refY: 48.3, ticks: [-3.0, -2.9, -2.8], labeled: [-3.0, -2.8], lx: 118, ly: 43 },
  { name: "B", data: B_MAG, mid: B_MID, top: 146, bottom: 228, ref: -1.0, refY: 195.7, ticks: [-1.1, -1.0], labeled: [-1.0], lx: 118, ly: 166 },
  { name: "V", data: V_MAG, mid: V_MID, top: 237, bottom: 317, ref: -0.2, refY: 243.3, ticks: [-0.2, -0.1, 0], labeled: [-0.2, 0], lx: 118, ly: 256 },
  { name: "R", data: R_MAG, mid: R_MID, top: 327, bottom: 407, ref: 0.8, refY: 392.3, ticks: [0.7, 0.8], labeled: [0.8], lx: 118, ly: 345 },
  { name: "I", data: I_MAG, mid: I_MID, top: 417, bottom: 500, ref: 1.2, refY: 464.3, ticks: [1.1, 1.2], labeled: [1.2], lx: 120, ly: 435 },
  { name: "U\u2212B", data: UB_COL, mid: UB_MID, top: 509, bottom: 558, ref: -1.9, refY: 531.7, ticks: [-1.9], labeled: [-1.9], lx: 102, ly: 527 },
  { name: "B\u2212V", data: BV_COL, mid: BV_MID, top: 567, bottom: 608, ref: -0.9, refY: 596.7, ticks: [-0.9], labeled: [-0.9], lx: 102, ly: 586 },
  { name: "V\u2212R", data: VR_COL, mid: VR_MID, top: 617, bottom: 652, ref: -0.8, refY: 650, ticks: [-0.8], labeled: [-0.8], lx: 102, ly: 636 },
  { name: "R\u2212I", data: RI_COL, mid: RI_MID, top: 662, bottom: 697, ref: -0.4, refY: 692.7, ticks: [-0.4], labeled: [-0.4], lx: 102, ly: 679 },
];

type PanelDef = (typeof PANELS)[number];

function toPoints(main: number[][], mid: number[][]) {
  const pts: { t: number; m: number }[] = [];
  main.forEach((run, s) => {
    const n = run.length;
    const step = n > 1 ? (SEG_END[s] - SEG_START[s]) / (n - 1) : 0;
    run.forEach((m, i) => pts.push({ t: SEG_START[s] + step * i, m }));
    (mid[s] || []).forEach((m, i) => pts.push({ t: SEG_START[s] + step * (i + 0.5), m }));
  });
  return pts;
}

const magAt = (p: PanelDef, y: number) => p.ref + (y - p.refY) / PX_PER_MAG;
const near = (list: number[], v: number) => list.some((l) => Math.abs(l - v) < 1e-9);
const fmtMag = (v: number) => v.toFixed(1).replace("-", "\u2212");

const dot = (p: any) => <circle cx={p.cx} cy={p.cy} r={1.45} fill={INK} />;

const leftTick = (labeled: number[]) => (props: any) => {
  const v = props.payload.value as number;
  const major = near(labeled, v);
  const y = props.y;
  return (
    <g>
      <line x1={PLOT_L} x2={PLOT_L + (major ? 16 : 10)} y1={y} y2={y} stroke={INK} strokeWidth={1.5} />
      {major && (
        <text x={v < 0 ? 67 : 62} y={y + 10} textAnchor="end" fontFamily={SANS} fontSize={23} fill={INK}>
          {fmtMag(v)}
        </text>
      )}
    </g>
  );
};

const rightTick = (labeled: number[]) => (props: any) => {
  const v = props.payload.value as number;
  const len = near(labeled, v) ? 15 : 10;
  return <line x1={PLOT_R} x2={PLOT_R - len} y1={props.y} y2={props.y} stroke={INK} strokeWidth={1.5} />;
};

// time labels under the frame
const bottomLabel = (props: any) => {
  const v = props.payload.value as number;
  if (!near(X_LABELED, v)) return <g />;
  return (
    <text x={props.x + 2} y={745} textAnchor="middle" fontFamily={SANS} fontSize={23} fill={INK}>
      {v.toFixed(2).replace(/^0/, "")}
    </text>
  );
};

// frame edge (top or bottom) with its inward time ticks, as reference segments
function frameEdge(p: PanelDef, edgeY: number, dir: number) {
  const y0 = magAt(p, edgeY);
  const marks = [
    <ReferenceLine
      key="edge"
      yAxisId="l"
      ifOverflow="visible"
      segment={[{ x: X_DOMAIN[0], y: y0 }, { x: X_DOMAIN[1], y: y0 }]}
      stroke={INK}
      strokeWidth={1.6}
    />,
  ];
  X_TICKS.forEach((t) => {
    const len = near(X_LABELED, t) ? 16 : 11;
    marks.push(
      <ReferenceLine
        key={`t${t}`}
        yAxisId="l"
        ifOverflow="visible"
        segment={[{ x: t, y: y0 }, { x: t, y: magAt(p, edgeY + dir * len) }]}
        stroke={INK}
        strokeWidth={1.8}
      />
    );
  });
  return marks;
}

function Panel({ p, frame }: { p: PanelDef; frame?: "top" | "bottom" }) {
  // the first panel carries the top frame line, the last one the time axis
  const plotTop = frame === "top" ? FRAME_TOP : p.top;
  const plotBottom = frame === "bottom" ? FRAME_BOTTOM : p.bottom;
  const domain = [magAt(p, plotTop), magAt(p, plotBottom)];
  const segTop = magAt(p, p.top);
  const segBottom = magAt(p, p.bottom);
  const marginBottom = frame === "bottom" ? H - plotBottom - 1 : H - plotBottom;

  return (
    <div style={{ position: "absolute", left: 0, top: 0 }}>
      <ScatterChart width={W} height={H} margin={{ top: plotTop, right: 0, bottom: marginBottom, left: 0 }}>
        {frame === "bottom" ? (
          <XAxis
            type="number"
            dataKey="t"
            orientation="bottom"
            domain={X_DOMAIN}
            allowDataOverflow
            ticks={X_TICKS}
            interval={0}
            height={1}
            tickSize={0}
            tickMargin={0}
            tickLine={false}
            axisLine={false}
            tick={bottomLabel}
          />
        ) : (
          <XAxis type="number" dataKey="t" domain={X_DOMAIN} hide allowDataOverflow />
        )}
        <YAxis
          yAxisId="l"
          type="number"
          dataKey="m"
          reversed
          domain={domain}
          allowDataOverflow
          ticks={p.ticks}
          interval={0}
          width={PLOT_L}
          tickSize={0}
          tickMargin={0}
          tickLine={false}
          axisLine={false}
          tick={leftTick(p.labeled)}
        />
        <YAxis
          yAxisId="r"
          orientation="right"
          type="number"
          reversed
          domain={domain}
          allowDataOverflow
          ticks={p.ticks}
          interval={0}
          width={W - PLOT_R}
          tickSize={0}
          tickMargin={0}
          tickLine={false}
          axisLine={false}
          tick={rightTick(p.labeled)}
        />
        <ReferenceLine
          yAxisId="l"
          ifOverflow="visible"
          segment={[{ x: X_DOMAIN[0], y: segTop }, { x: X_DOMAIN[0], y: segBottom }]}
          stroke={INK}
          strokeWidth={1.6}
        />
        <ReferenceLine
          yAxisId="l"
          ifOverflow="visible"
          segment={[{ x: X_DOMAIN[1], y: segTop }, { x: X_DOMAIN[1], y: segBottom }]}
          stroke={INK}
          strokeWidth={1.6}
        />
        {frame === "top" && frameEdge(p, FRAME_TOP, 1)}
        {frame === "bottom" && frameEdge(p, FRAME_BOTTOM, -1)}
        <Scatter yAxisId="l" data={toPoints(p.data, p.mid)} shape={dot} isAnimationActive={false} />
      </ScatterChart>
    </div>
  );
}

export default function App() {
  return (
    <div style={{ position: "absolute", left: 0, top: 0, width: W, height: H, background: "#fff" }}>
      {PANELS.map((p, i) => (
        <Panel key={p.name} p={p} frame={i === 0 ? "top" : i === PANELS.length - 1 ? "bottom" : undefined} />
      ))}
      <svg width={W} height={H} style={{ position: "absolute", left: 0, top: 0, pointerEvents: "none" }}>
        {PANELS.map((p) => (
          <text key={p.name} x={p.lx} y={p.ly} fontFamily={SERIF} fontSize={26} letterSpacing={1} fill={INK}>
            {p.name}
          </text>
        ))}
        <text x={304} y={64} fontFamily={SERIF} fontSize={33} fill={INK} style={{ whiteSpace: "pre" }}>
          {"TT  Ari"}
        </text>
        <text x={305} y={170} fontFamily={SANS} fontSize={25} fill={INK}>
          16.12.1998
        </text>
      </svg>
    </div>
  );
}
